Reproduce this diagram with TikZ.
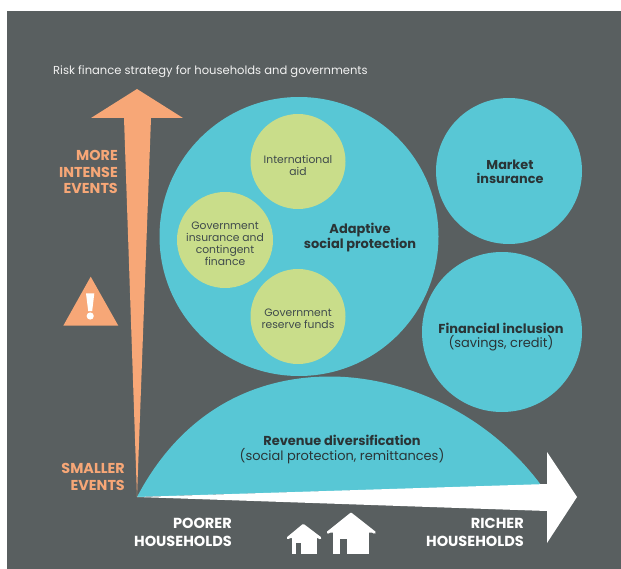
\documentclass[tikz,border=0pt]{standalone}
\usepackage{fontspec}
\setmainfont{Poppins}
\definecolor{panel}{HTML}{595F60}
\definecolor{teal}{HTML}{58C7D5}
\definecolor{lime}{HTML}{C9DD8A}
\definecolor{peach}{HTML}{F7A777}
\definecolor{ink}{HTML}{2A3436}
\definecolor{soft}{HTML}{3F4A4C}
\tikzset{
  bub/.style={circle,fill=teal,inner sep=0pt},
  sub/.style={circle,fill=lime,inner sep=0pt},
  subtext/.style={inner sep=0pt,align=center,text=soft,font=\fontsize{10.8}{12.1}\selectfont},
  head/.style={inner sep=0pt,font=\fontsize{13}{14.3}\selectfont,text=ink,align=center},
  peachlab/.style={inner sep=0pt,font=\fontsize{14.4}{17}\selectfont\bfseries,text=peach,align=right,anchor=east},
  whitelab/.style={inner sep=0pt,font=\fontsize{14.6}{18}\selectfont\bfseries,text=white,align=right,anchor=east},
  roof/.style={draw=white,line width=2.6bp,line cap=round,line join=round,fill=white},
}
\begin{document}
\begin{tikzpicture}[x=1bp,y=-1bp]
\useasboundingbox (0,0) rectangle (621,569);
\fill[white] (0,0) rectangle (621,569);
\fill[panel] (7,11) rectangle (621,569);
\node[bub,minimum size=279bp] (big) at (299,236.5) {};
\node[sub,minimum size=95bp] (aid) at (298,161.5) {};
\node[subtext] (aidt) at (298,165.5) {International\\aid};
\node[sub,minimum size=96bp] (gov) at (225,240) {};
\node[subtext] (govt) at (225,243.6) {Government\\insurance and\\contingent\\finance};
\node[sub,minimum size=95bp] (res) at (298,316.5) {};
\node[subtext] (rest) at (298,318.5) {Government\\reserve funds};
\node[head,font=\fontsize{13}{14.3}\selectfont\bfseries] (asp) at (360,237.5) {Adaptive\\social protection};
\node[bub,minimum size=146bp] (mkt) at (509,171) {};
\node[head,font=\fontsize{12.9}{14.3}\selectfont\bfseries] (mktt) at (510,172) {Market\\insurance};
\node[bub,minimum size=160bp] (fin) at (502,332) {};
\node[head] (fint) at (501,337) {\textbf{Financial inclusion}\\(savings, credit)};
\fill[teal] (137,497) .. controls (180,415) and (250,376.5) .. (330,376.5) .. controls (400,376.5) and (485,410) .. (541,485) -- cycle;
\node[head] (revt) at (342,449.5) {\textbf{Revenue diversification}\\(social protection, remittances)};
\fill[peach] (137,497) -- (151,118) -- (183,118) -- (137,89) -- (91,118) -- (124,118) -- cycle;
\fill[white] (137,497) -- (547,484) -- (547,452) -- (577,497) -- (547,543) -- (547,511) -- cycle;
% warning sign
\fill[peach] (90.7,276.7) -- (118.3,325.7) -- (63.3,325.7) -- cycle;
\fill[white] (86,293.3) -- (94.3,293.3) -- (92.2,311) -- (88.2,311) -- cycle;
\fill[white] (90.2,316) circle[radius=3.6bp];
% small house
\fill[white] (291.7,534) rectangle (316.7,554.3);
\path[roof] (288,538) -- (303.3,525.3) -- (320,538);
\fill[panel] (296,543.3) rectangle (300.7,554.3);
% big house
\fill[white] (333.3,528) rectangle (369,554.3);
\path[roof] (328,532.5) -- (351,514) -- (374.5,532.5);
\fill[panel] (340,539.3) rectangle (347.3,554.3);
\node[anchor=west,inner sep=0pt,text=white!92!panel,font=\fontsize{11.6}{14}\selectfont] (title) at (53,72) {Risk finance strategy for households and governments};
\node[peachlab] (more) at (118,172) {MORE\\INTENSE\\EVENTS};
\node[peachlab] (small) at (125,476.5) {SMALLER\\EVENTS};
\node[whitelab] (poor) at (232,532.5) {POORER\\HOUSEHOLDS};
\node[whitelab] (rich) at (524,532.5) {RICHER\\HOUSEHOLDS};
\end{tikzpicture}
\end{document}
